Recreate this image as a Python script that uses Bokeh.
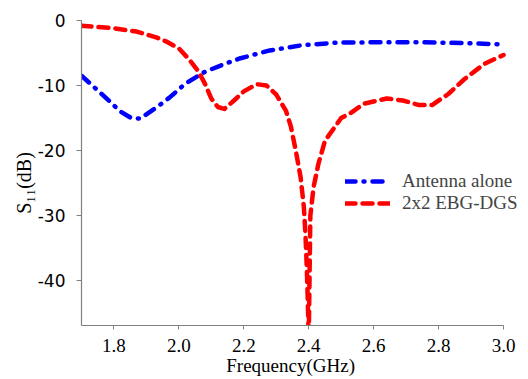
from bokeh.plotting import figure
from bokeh.models import Range1d, FixedTicker, Legend, LegendItem, LinearAxis
from bokeh.embed import file_html
from bokeh.resources import INLINE

# Data
freq_alone = [1.70, 1.76, 1.82, 1.85, 1.88, 1.93, 1.97, 2.02, 2.08, 2.14, 2.19, 2.28, 2.38, 2.49, 2.60, 2.75, 2.90, 3.00]
s11_alone = [-8.5, -11.2, -14.0, -14.9, -15.1, -13.4, -11.9, -9.7, -7.9, -6.7, -5.8, -4.6, -3.8, -3.4, -3.35, -3.35, -3.5, -3.7]

freq_ebg = [1.70, 1.80, 1.87, 1.93, 1.96, 2.00, 2.03, 2.06, 2.08, 2.10, 2.12, 2.14, 2.17, 2.20, 2.24, 2.27,
            2.30, 2.33, 2.345, 2.36, 2.375, 2.385, 2.39, 2.394, 2.397, 2.40, 2.405, 2.415, 2.43, 2.45, 2.50,
            2.53, 2.57, 2.64, 2.69, 2.74, 2.78, 2.83, 2.88, 2.94, 3.00]
s11_ebg = [-0.8, -1.2, -1.7, -2.6, -3.2, -4.3, -5.9, -7.8, -9.7, -12.0, -13.3, -13.6, -12.3, -10.9, -9.8, -10.0,
           -11.4, -13.9, -16.3, -20.0, -24.1, -28.7, -33.0, -38.0, -43.0, -49.0, -30.0, -25.6, -22.0, -18.5, -15.0,
           -14.2, -12.8, -12.0, -12.3, -13.0, -13.0, -11.3, -9.0, -6.7, -5.3]

x_ticks = [1.8, 2.0, 2.2, 2.4, 2.6, 2.8, 3.0]
x_tick_labels = ["1.8", "2.0", "2.2", "2.4", "2.6", "2.8", "3.0"]
y_ticks = [0, -10, -20, -30, -40]
y_tick_labels = ["0", "-10", "-20", "-30", "-40"]
series_names = ["Antenna alone", "2x2 EBG-DGS"]

NB = "\u00a0"

p = figure(width=528, height=379, output_backend="svg", toolbar_location=None,
           x_range=Range1d(1.7, 3.0616), y_range=Range1d(-46.9, 0),
           x_axis_type=None, y_axis_type=None,
           min_border_left=81, min_border_right=5, min_border_top=20, min_border_bottom=54)
p.outline_line_color = None
p.background_fill_color = "white"
p.border_fill_color = "white"

xax = LinearAxis(ticker=FixedTicker(ticks=x_ticks),
                 major_label_overrides={t: s for t, s in zip(x_ticks, x_tick_labels)},
                 bounds=(1.7, 3.0),
                 axis_line_color="#808080", axis_line_width=1.2,
                 major_tick_line_color="#808080", major_tick_in=0, major_tick_out=4,
                 minor_tick_line_color=None,
                 major_label_text_font="Liberation Serif", major_label_text_font_size="19px",
                 major_label_text_color="black", major_label_standoff=9,
                 axis_label="Frequency(GHz)" + NB * 5, axis_label_standoff=0,
                 axis_label_text_font="Liberation Serif", axis_label_text_font_size="19px",
                 axis_label_text_font_style="normal", axis_label_text_color="black")
p.add_layout(xax, "below")

yax = LinearAxis(ticker=FixedTicker(ticks=y_ticks),
                 major_label_overrides={t: s for t, s in zip(y_ticks, y_tick_labels)},
                 bounds=(-46.9, 0),
                 axis_line_color="#808080", axis_line_width=1.2,
                 major_tick_line_color="#808080", major_tick_in=0, major_tick_out=5,
                 minor_tick_line_color=None,
                 major_label_text_font="DejaVu Sans", major_label_text_font_size="17px",
                 major_label_text_color="black", major_label_standoff=11,
                 axis_label="S\u2081\u2081(dB)" + NB * 4, axis_label_standoff=0,
                 axis_label_text_font="Liberation Serif", axis_label_text_font_size="20px",
                 axis_label_text_font_style="normal", axis_label_text_color="black")
p.add_layout(yax, "left")

r1 = p.line(freq_alone, s11_alone, line_color="#0000FF", line_width=4.5,
            line_dash="10 8 1 8", line_cap="round", line_join="round")
r2 = p.line(freq_ebg, s11_ebg, line_color="#FF0000", line_width=4.5,
            line_dash="10 7", line_cap="round", line_join="round")

legend = Legend(items=[LegendItem(label=series_names[0], renderers=[r1]),
                       LegendItem(label=series_names[1], renderers=[r2])],
                location=(264, 111), padding=0, margin=0, spacing=0,
                glyph_width=45, glyph_height=20, label_height=20, label_standoff=12,
                label_text_font="Liberation Serif", label_text_font_size="19px",
                border_line_color=None, background_fill_alpha=0)
p.add_layout(legend, "center")

open("out.html", "w").write(file_html(p, INLINE))
